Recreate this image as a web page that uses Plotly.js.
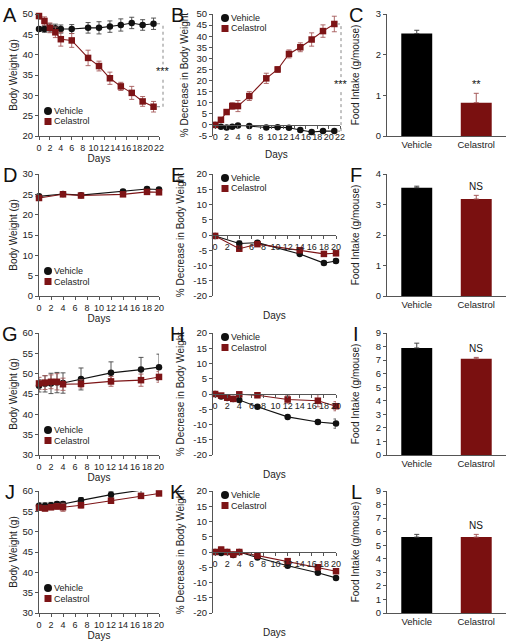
<!DOCTYPE html>
<html><head><meta charset="utf-8">
<script src="https://cdn.plot.ly/plotly-3.0.1.min.js"></script>
<style>html,body{margin:0;padding:0;background:#fff;}#chart{width:512px;height:641px;}</style>
</head><body><div id="chart"></div>
<script>
// ---------- data ----------
const groups = ['Vehicle', 'Celastrol'];

// A / B  (0-21 days)
const days_A = [0, 1, 2, 3, 4, 6, 9, 11, 13, 15, 17, 19, 21];
const veh_A = [46.3, 46.3, 46.6, 46.5, 46.3, 46.3, 46.6, 46.6, 46.9, 47.3, 47.8, 47.3, 47.6];
const veh_A_err = [0.6, 0.8, 1.0, 1.0, 1.0, 1.1, 1.3, 1.5, 1.4, 1.5, 1.4, 1.3, 1.4];
const cel_A = [49.5, 48.3, 46.6, 45.5, 43.8, 43.5, 39.2, 37.2, 34.2, 32.2, 30.6, 28.5, 27.2];
const cel_A_err = [0.8, 1.0, 1.2, 1.3, 1.7, 1.7, 1.9, 1.2, 1.5, 1.0, 1.6, 1.2, 1.3];
const veh_B = [0, -0.8, -1.2, -0.8, -0.3, -0.5, -1.2, -1.0, -1.3, -2.3, -3.2, -2.8, -2.8];
const veh_B_err = [0.2, 0.4, 0.5, 0.5, 0.5, 0.5, 0.6, 0.6, 0.6, 0.6, 0.6, 0.6, 0.6];
const cel_B = [0, 2.3, 5.8, 8.5, 8.5, 13, 21, 25, 32, 35, 38.5, 42.3, 45.5];
const cel_B_err = [0.3, 0.8, 0.8, 1.5, 2.5, 2.0, 2.3, 1.3, 1.8, 2.0, 3.0, 2.8, 3.5];
const food_C = [2.52, 0.82];
const food_C_err = [0.08, 0.23];

// D / E / F
const days_D = [0, 4, 7, 14, 18, 20];
const veh_D = [24.5, 25.1, 24.8, 25.7, 26.3, 26.2];
const veh_D_err = [0.5, 0.5, 0.4, 0.5, 0.5, 0.5];
const cel_D = [24.1, 25.0, 24.7, 25.0, 25.6, 25.5];
const cel_D_err = [0.4, 0.4, 0.4, 0.5, 0.5, 0.5];
const veh_E = [-0.3, -2.8, -2.5, -6.2, -9.2, -8.5];
const veh_E_err = [0.3, 0.8, 0.6, 0.6, 0.6, 0.8];
const cel_E = [-0.3, -4.5, -3.0, -5.0, -6.2, -6.0];
const cel_E_err = [0.3, 0.8, 0.6, 0.6, 0.8, 0.6];
const food_F = [3.55, 3.18];
const food_F_err = [0.05, 0.12];

// G / H / I
const days_G = [0, 1, 2, 3, 4, 7, 12, 17, 20];
const veh_G = [47.0, 47.5, 47.6, 47.8, 47.7, 48.7, 50.2, 51.0, 51.6];
const veh_G_err = [1.5, 2.0, 2.5, 2.5, 2.5, 2.7, 2.7, 3.0, 3.2];
const cel_G = [47.6, 47.8, 48.0, 48.0, 47.4, 47.5, 48.1, 48.4, 49.2];
const cel_G_err = [1.5, 1.7, 1.7, 2.0, 1.5, 1.0, 1.2, 1.5, 1.3];
const veh_H = [0, -0.8, -1.3, -1.6, -2.0, -4.2, -7.5, -9.2, -9.7];
const veh_H_err = [0.3, 0.4, 0.4, 0.5, 0.5, 0.5, 0.5, 0.6, 1.5];
const cel_H = [0, -0.5, -1.2, -1.6, -0.1, -0.4, -1.8, -2.2, -4.0];
const cel_H_err = [0.3, 0.5, 0.5, 0.5, 0.5, 0.8, 1.2, 2.0, 1.5];
const food_I = [7.9, 7.1];
const food_I_err = [0.35, 0.1];

// J / K / L
const days_J = [0, 1, 2, 3, 4, 7, 12, 17, 20];
const veh_J = [56.4, 56.4, 56.5, 56.8, 56.8, 57.7, 59.1, 60.2, 60.9];
const veh_J_err = [0.7, 0.7, 0.7, 0.6, 0.6, 0.7, 0.7, 0.8, 0.6];
const cel_J = [55.9, 55.7, 56.0, 56.2, 56.0, 56.5, 57.6, 58.8, 59.4];
const cel_J_err = [0.5, 0.6, 0.6, 0.7, 1.0, 0.7, 0.6, 0.6, 0.6];
const veh_K = [0, -0.3, 0, -1.0, 0, -1.8, -4.5, -6.8, -8.5];
const veh_K_err = [0.3, 0.5, 0.5, 0.5, 0.5, 0.5, 0.5, 0.5, 0.6];
const cel_K = [0, 0.8, 0, -0.8, 0, -1.2, -3.0, -5.0, -6.3];
const cel_K_err = [0.3, 0.8, 0.5, 0.5, 0.5, 0.5, 0.5, 0.5, 0.5];
const food_L = [5.6, 5.6];
const food_L_err = [0.2, 0.2];

// ---------- style ----------
const FONT = '"Liberation Sans", Arial, Helvetica, sans-serif';
const TXT = '#222222', AXC = '#555555';
const VEH = '#111111', CEL = '#7d1416';
const VEH_ERR = '#444444', CEL_ERR = '#a55a5a';
const BAR_VEH = '#000000', BAR_CEL = '#7a1010';
const W = 512, H = 641;
const rows = [[14, 136], [174, 296], [333, 455], [491, 613]];
const letterX = [10, 177, 356];

const panels = [
  {L:'A', type:'bw', row:0, col:0, days:days_A, veh:veh_A, vehErr:veh_A_err, cel:cel_A, celErr:cel_A_err, yRange:[20,50], xRange:[0,22], xPx:[39,159], sig:'***', br:[157,163]},
  {L:'B', type:'pct', row:0, col:1, days:days_A, veh:veh_B, vehErr:veh_B_err, cel:cel_B, celErr:cel_B_err, yRange:[-5,50], xRange:[-0.4,22], xPx:[213,340], sig:'***', br:[337,341]},
  {L:'C', type:'bar', row:0, col:2, vals:food_C, errs:food_C_err, yRange:[0,3], xPx:[387,506], sig:'**'},
  {L:'D', type:'bw', row:1, col:0, days:days_D, veh:veh_D, vehErr:veh_D_err, cel:cel_D, celErr:cel_D_err, yRange:[0,30], xRange:[0,20], xPx:[39,159]},
  {L:'E', type:'pct', row:1, col:1, days:days_D, veh:veh_E, vehErr:veh_E_err, cel:cel_E, celErr:cel_E_err, yRange:[-20,20], xRange:[-0.35,20], xPx:[213,336]},
  {L:'F', type:'bar', row:1, col:2, vals:food_F, errs:food_F_err, yRange:[0,4], xPx:[387,506], sig:'NS'},
  {L:'G', type:'bw', row:2, col:0, days:days_G, veh:veh_G, vehErr:veh_G_err, cel:cel_G, celErr:cel_G_err, yRange:[30,60], xRange:[0,20], xPx:[39,159]},
  {L:'H', type:'pct', row:2, col:1, days:days_G, veh:veh_H, vehErr:veh_H_err, cel:cel_H, celErr:cel_H_err, yRange:[-20,20], xRange:[-0.35,20], xPx:[213,336]},
  {L:'I', type:'bar', row:2, col:2, vals:food_I, errs:food_I_err, yRange:[0,9], xPx:[387,506], sig:'NS'},
  {L:'J', type:'bw', row:3, col:0, days:days_J, veh:veh_J, vehErr:veh_J_err, cel:cel_J, celErr:cel_J_err, yRange:[30,60], xRange:[0,20], xPx:[39,159]},
  {L:'K', type:'pct', row:3, col:1, days:days_J, veh:veh_K, vehErr:veh_K_err, cel:cel_K, celErr:cel_K_err, yRange:[-20,20], xRange:[-0.35,20], xPx:[213,336]},
  {L:'L', type:'bar', row:3, col:2, vals:food_L, errs:food_L_err, yRange:[0,9], xPx:[387,506], sig:'NS'}
];

function axBase() {
  return {showline:true, linecolor:AXC, linewidth:1, ticks:'outside', ticklen:3, tickwidth:1, tickcolor:AXC,
          showgrid:false, zeroline:false, fixedrange:true, tickangle:0,
          tickfont:{family:FONT, size:9.5, color:TXT}};
}
function steps(a, b, d) { const o = []; for (let v = a; v <= b + 1e-9; v += d) o.push(Math.round(v * 100) / 100); return o; }

const traces = [], annotations = [], shapes = [];
const layout = {width:W, height:H, margin:{l:0, r:0, t:0, b:0}, paper_bgcolor:'#fff', plot_bgcolor:'rgba(0,0,0,0)',
                showlegend:false, barmode:'overlay', font:{family:FONT, size:9.5, color:TXT}};

panels.forEach((p, i) => {
  const n = i + 1, sfx = n === 1 ? '' : String(n);
  const xr = 'x' + sfx, yr = 'y' + sfx;
  const [top, bot] = rows[p.row];
  const yDom = [1 - bot / H, 1 - top / H];
  const xDom = [p.xPx[0] / W, p.xPx[1] / W];
  const xa = Object.assign(axBase(), {domain:xDom, anchor:yr});
  const ya = Object.assign(axBase(), {domain:yDom, anchor:xr, range:p.yRange});
  const ydomFrac = v => (v - p.yRange[0]) / (p.yRange[1] - p.yRange[0]);

  if (p.type === 'bar') {
    ya.dtick = 1; ya.tick0 = 0;
    ya.title = {text:'Food Intake (g/mouse)', font:{family:FONT, size:10, color:TXT}, standoff:14};
    Object.assign(xa, {type:'category', categoryorder:'array', categoryarray:groups, range:[-0.5, 1.5], ticks:''});
    groups.forEach((g, k) => traces.push({
      type:'bar', name:g, x:[g], y:[p.vals[k]], xaxis:xr, yaxis:yr, width:0.52,
      marker:{color:k ? BAR_CEL : BAR_VEH, line:{width:0}},
      error_y:{type:'data', array:[p.errs[k]], arrayminus:[0], symmetric:false, color:k ? CEL_ERR : VEH_ERR, thickness:1, width:2.5},
      hoverinfo:'skip'}));
    annotations.push({xref:xr, yref:yr, x:groups[1], y:p.vals[1] + p.errs[1], yanchor:'bottom', yshift:1,
                      text:p.sig, showarrow:false, font:{family:FONT, size:p.sig === 'NS' ? 10 : 11, color:'#111111'}});
  } else {
    Object.assign(xa, {range:p.xRange, dtick:2, tick0:0, tickfont:{family:FONT, size:9, color:TXT}});
    ya.dtick = 5; ya.tick0 = p.yRange[0];
    const seriesStyle = [
      {name:'Vehicle', y:p.veh, e:p.vehErr, c:VEH, ec:VEH_ERR, sym:'circle', sz:6.5},
      {name:'Celastrol', y:p.cel, e:p.celErr, c:CEL, ec:CEL_ERR, sym:'square', sz:6.5}
    ];
    seriesStyle.forEach(s => traces.push({
      type:'scatter', mode:'lines+markers', name:s.name, x:p.days, y:s.y, xaxis:xr, yaxis:yr, cliponaxis:false,
      line:{color:s.c, width:1.1}, marker:{color:s.c, symbol:s.sym, size:s.sz, line:{width:0}},
      error_y:{type:'data', array:s.e, color:s.ec, thickness:0.9, width:2.5}, hoverinfo:'skip'}));

    const wpx = p.xPx[1] - p.xPx[0], hpx = bot - top;
    let lx, ly1, ly2, tx;
    if (p.type === 'bw') {
      ya.title = {text:'Body Weight (g)', font:{family:FONT, size:10, color:TXT}, standoff:3};
      xa.title = {text:'Days', font:{family:FONT, size:10, color:TXT}, standoff:2};
      lx = 9; tx = 14; ly1 = 97; ly2 = 107.5;
    } else {
      const tv = steps(p.yRange[0], p.yRange[1], 5);
      Object.assign(ya, {tickmode:'array', tickvals:tv, ticktext:tv.map(v => String(v))});
      ya.title = {text:'% Decrease in Body Weight', font:{family:FONT, size:10, color:TXT}, standoff:6};
      xa.anchor = 'free';
      xa.position = yDom[0] + (yDom[1] - yDom[0]) * ydomFrac(0);
      annotations.push({xref:'paper', yref:'paper', x:(p.xPx[0] + p.xPx[1]) / 2 / W, y:1 - (bot + 19) / H,
                        xanchor:'center', yanchor:'middle', text:'Days', showarrow:false, font:{family:FONT, size:10, color:TXT}});
      lx = 12; tx = 17; ly1 = 4; ly2 = 14.5;
    }
    // legend (drawn in the panel's axis-domain frame)
    const legendRows = [[ly1, 'circle', VEH, 'Vehicle'], [ly2, 'rect', CEL, 'Celastrol']];
    legendRows.forEach(([ly, shp, col, label]) => {
      const yf = 1 - ly / hpx, xf = lx / wpx;
      const r = shp === 'circle' ? 4 : 3.5;
      shapes.push({type:shp, xref:xr + ' domain', yref:yr + ' domain', xsizemode:'pixel', ysizemode:'pixel',
                   xanchor:xf, yanchor:yf, x0:-r, x1:r, y0:-r, y1:r, fillcolor:col, line:{width:0}});
      annotations.push({xref:xr + ' domain', yref:yr + ' domain', x:tx / wpx, y:yf, xanchor:'left', yanchor:'middle',
                        text:label, showarrow:false, borderpad:0, font:{family:FONT, size:9, color:TXT}});
    });
    // significance bracket
    if (p.sig) {
      const lastV = p.veh[p.veh.length - 1], lastC = p.cel[p.cel.length - 1];
      const yt = ydomFrac(Math.max(lastV, lastC)), yb = ydomFrac(Math.min(lastV, lastC));
      const x0 = (p.br[0] - p.xPx[0]) / wpx, x1 = (p.br[1] - p.xPx[0]) / wpx;
      const dl = {color:'#888', width:1, dash:'dot'};
      const ref = {xref:xr + ' domain', yref:yr + ' domain'};
      shapes.push(Object.assign({type:'line', x0:x1, x1:x1, y0:yb, y1:yt, line:dl}, ref));
      shapes.push(Object.assign({type:'line', x0:x0, x1:x1, y0:yt, y1:yt, line:dl}, ref));
      shapes.push(Object.assign({type:'line', x0:x0, x1:x1, y0:yb, y1:yb, line:dl}, ref));
      annotations.push(Object.assign({x:x1, y:(yt + yb) / 2, xanchor:'center', yanchor:'middle', yshift:-6,
                        text:p.sig, showarrow:false, bgcolor:'#ffffff', borderpad:0, font:{family:FONT, size:11, color:'#111111'}}, ref));
    }
  }
  layout['xaxis' + sfx] = xa;
  layout['yaxis' + sfx] = ya;
  annotations.push({xref:'paper', yref:'paper', x:letterX[p.col] / W, y:1 - (top + 1) / H, xanchor:'center', yanchor:'middle',
                    text:p.L, showarrow:false, font:{family:FONT, size:20, color:'#111'}});
});

layout.annotations = annotations;
layout.shapes = shapes;
Plotly.newPlot('chart', traces, layout, {displayModeBar:false, staticPlot:true});
</script></body></html>
